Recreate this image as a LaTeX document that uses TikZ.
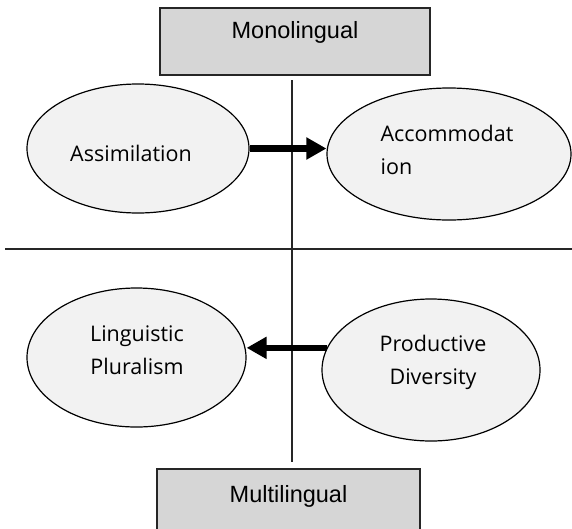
\documentclass[tikz,border=0pt]{standalone}
\usepackage{fontspec}
\setmainfont{Liberation Sans}
\newfontfamily\ellfont{Open Sans}
\usetikzlibrary{shapes.geometric,arrows.meta,calc}
\definecolor{boxgray}{RGB}{214,214,214}
\definecolor{ellgray}{RGB}{242,242,242}
\begin{document}
\begin{tikzpicture}[x=1pt,y=-1pt,
  box/.style={draw=black!85,line width=1.5pt,fill=boxgray,rectangle,inner sep=0pt,
    font=\fontsize{23.5}{27}\selectfont},
  ell/.style={draw=black,line width=1.2pt,fill=ellgray,ellipse,inner sep=0pt},
  elltext/.style={inner sep=0pt,font=\ellfont\fontsize{21.5}{33}\selectfont,align=center},
  arr/.style={line width=6.5pt,-{Triangle[length=20pt,width=21pt]}},
  axis/.style={draw=black!85,line width=1.5pt}]
\useasboundingbox (0,0) rectangle (572,528);
% boxes
\node[box,minimum width=270pt,text height=31pt,text depth=36pt] (mono) at (295,7) [anchor=north] {Monolingual};
\node[box,minimum width=263pt,text height=34pt,text depth=36pt] (multi) at (288.5,468) [anchor=north] {Multilingual};
% axes
\coordinate (vtop) at (292,80);
\coordinate (vbot) at (292,462);
\coordinate (hl) at (5,249);
\coordinate (hr) at (572,249);
\draw[axis] (vtop) -- (vbot);
\draw[axis,line width=2pt] (hl) -- (hr);
% ellipses
\node[ell,minimum width=222pt,minimum height=129pt] (assim) at (138,148.5) {};
\node[ell,minimum width=244pt,minimum height=132pt] (accom) at (449,154) {};
\node[ell,minimum width=219pt,minimum height=139pt] (ling) at (136.5,357.5) {};
\node[ell,minimum width=218pt,minimum height=142pt] (prod) at (431,370) {};
% texts
\node[elltext] (assimt) at ($(assim.center)+(-7,4.5)$) {Assimilation};
\node[elltext,align=left] (accomt) at ($(accom.center)+(-2,-4)$) {Accommodat\\ion};
\node[elltext] (lingt) at ($(ling.center)+(0.5,-7)$) {Linguistic\\Pluralism};
\node[elltext] (prodt) at ($(prod.center)+(2,-8)$) {Productive\\Diversity};
% arrows
\draw[arr] (assim.east) -- (assim.east -| accom.west);
\draw[arr] (prod.168.6) -- (prod.168.6 -| ling.east);
\end{tikzpicture}
\end{document}
